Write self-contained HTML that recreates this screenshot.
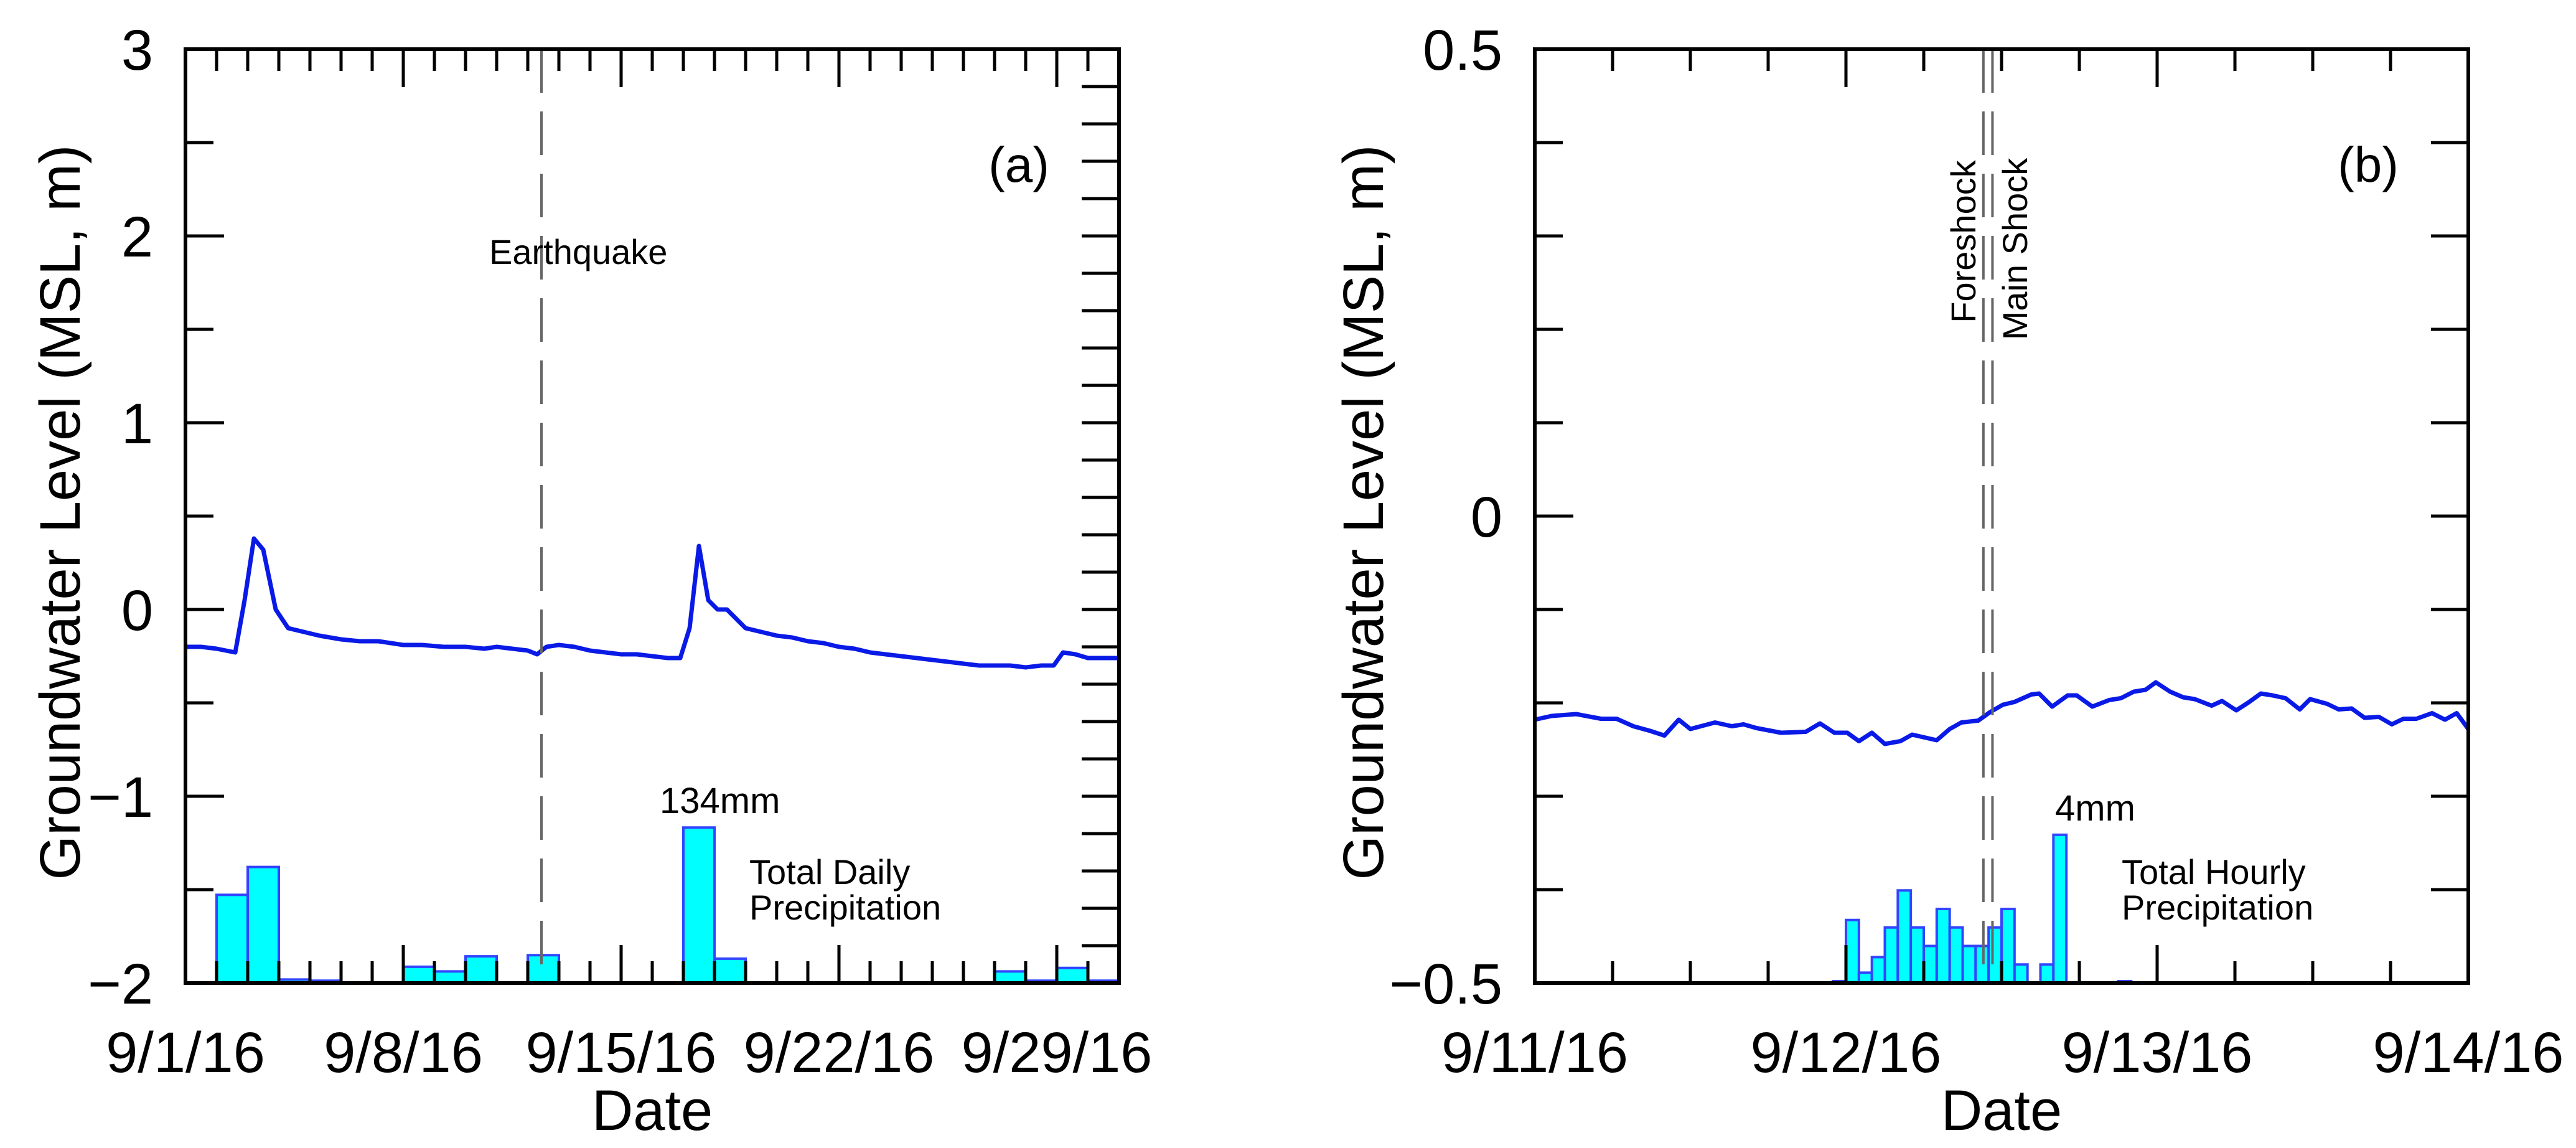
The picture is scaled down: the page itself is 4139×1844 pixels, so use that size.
<!DOCTYPE html>
<html><head><meta charset="utf-8"><style>
html,body{margin:0;padding:0;background:#fff;}
svg{display:block;font-family:"Liberation Sans",Arial,sans-serif;}
</style></head><body>
<svg id="chart" width="4139" height="1844" viewBox="0 0 4139 1844" xmlns="http://www.w3.org/2000/svg">
<g id="pa"></g>
<g id="pb"></g>
</svg>
<script>
// ---- Panel (a) data ----
const aTickLabels = ["9/1/16","9/8/16","9/15/16","9/22/16","9/29/16"];
const aTickDays = [0,7,14,21,28];
const aYTicks = [3,2,1,0,-1,-2];
const aLevelDays = [0,0.5,1,1.3,1.6,1.9,2.2,2.5,2.9,3.3,3.8,4.3,5,5.6,6.2,7,7.6,8.3,9,9.6,10,10.5,11,11.3,11.6,12,12.5,13,13.5,14,14.5,15,15.5,15.9,16.2,16.5,16.8,17.1,17.4,18,18.5,19,19.5,20,20.5,21,21.5,22,22.5,23,23.5,24,24.5,25,25.5,26,26.5,27,27.5,27.9,28.2,28.6,29,29.5,30];
const aLevelValues = [-0.2,-0.2,-0.21,-0.22,-0.23,0.05,0.38,0.32,0.0,-0.1,-0.12,-0.14,-0.16,-0.17,-0.17,-0.19,-0.19,-0.2,-0.2,-0.21,-0.2,-0.21,-0.22,-0.24,-0.2,-0.19,-0.2,-0.22,-0.23,-0.24,-0.24,-0.25,-0.26,-0.26,-0.1,0.34,0.05,0.0,0.0,-0.1,-0.12,-0.14,-0.15,-0.17,-0.18,-0.2,-0.21,-0.23,-0.24,-0.25,-0.26,-0.27,-0.28,-0.29,-0.3,-0.3,-0.3,-0.31,-0.3,-0.3,-0.23,-0.24,-0.26,-0.26,-0.26];
const aPrecipDays = [1,2,3,4,7,8,9,11,16,17,26,27,28,29];
const aPrecipMM = [76,100,3,2,14,10,23,24,134,21,10,2,13,2];
const aQuakeDay = 11.44;

// ---- Panel (b) data ----
const bTickLabels = ["9/11/16","9/12/16","9/13/16","9/14/16"];
const bTickHours = [0,24,48,72];
const bYTicks = [0.5,0,-0.5];
const bLevelHours = [0,1.3,3.2,5.1,6.3,7.6,8.9,10.0,11.1,12.0,13.9,15.2,16.1,17.1,19.0,20.9,22.0,23.1,24.1,25.0,26.0,27.0,28.2,29.1,31.0,32.0,32.9,34.2,35.1,36.1,37.0,38.3,38.9,39.9,41.1,41.8,43.0,44.3,45.2,46.2,47.1,47.9,49.0,50.0,50.9,52.2,53.0,54.1,55.0,56.0,56.9,57.9,59.0,59.8,61.1,62.0,63.0,64.0,65.1,66.1,67.0,68.0,69.2,70.2,71.1,72.0];
const bLevelValues = [-0.218,-0.214,-0.212,-0.217,-0.217,-0.225,-0.230,-0.235,-0.218,-0.228,-0.221,-0.225,-0.223,-0.227,-0.232,-0.231,-0.222,-0.232,-0.232,-0.241,-0.232,-0.244,-0.241,-0.234,-0.240,-0.228,-0.221,-0.219,-0.210,-0.202,-0.199,-0.191,-0.190,-0.204,-0.192,-0.192,-0.204,-0.197,-0.195,-0.188,-0.186,-0.178,-0.188,-0.194,-0.196,-0.203,-0.198,-0.208,-0.200,-0.190,-0.192,-0.195,-0.207,-0.196,-0.201,-0.207,-0.206,-0.216,-0.215,-0.223,-0.217,-0.217,-0.211,-0.218,-0.211,-0.228];
const bPrecipHours = [23,24,25,26,27,28,29,30,31,32,33,34,35,36,37,38,39,40,45];
const bPrecipMM = [0.05,1.7,0.28,0.7,1.5,2.5,1.5,1.0,2.0,1.5,1.0,1.0,1.5,2.0,0.5,0,0.5,4,0.05];
const bForeshockHour = 34.6;
const bMainShockHour = 35.3;

const NS = "http://www.w3.org/2000/svg";
function mk(parent, tag, attrs, text){
  const e = document.createElementNS(NS, tag);
  for (const k in attrs) e.setAttribute(k, attrs[k]);
  if (text !== undefined) e.textContent = text;
  parent.appendChild(e);
  return e;
}

function panel(g, o){
  const L=o.L, R=o.R, T=79, B=1579;
  const sx = v => L + (v - o.x0)/(o.x1 - o.x0)*(R-L);
  const sy = v => B - (v - o.y0)/(o.y1 - o.y0)*(B-T);
  // precipitation bars
  const pg = mk(g,'g',{});
  
  
  o.pX.forEach((d,i)=>{
    const top = sy(o.y0 + o.pV[i]/o.mmPerUnit);
    const x0 = sx(d), x1 = sx(d+o.pW);
    const r = mk(pg,'rect',{x:x0,y:top,width:x1-x0,height:Math.max(0,B-top),fill:'#00ffff',stroke:'none'});
    
    
    const st = mk(pg,'polyline',{points:`${x0},${B} ${x0},${top} ${x1},${top} ${x1},${B}`,fill:'none',stroke:'#3344ff','stroke-width':4});
    
    
  });
  // level line
  const pts = o.lX.map((d,i)=>sx(d).toFixed(1)+','+sy(o.lV[i]).toFixed(1)).join(' ');
  const pl = mk(g,'polyline',{points:pts,fill:'none',stroke:'#0a1ae6','stroke-width':7,'stroke-linejoin':'round'});
  
  
  // event lines
  o.events.forEach(ev=>{
    const ln = mk(g,'line',{x1:sx(ev),x2:sx(ev),y1:T,y2:B,stroke:'#666','stroke-width':4,'stroke-dasharray':'70,30'});
    
    
  });
  // frame
  const fr = mk(g,'rect',{x:L,y:T,width:R-L,height:B-T,fill:'none',stroke:'#000','stroke-width':6});
  
  
  for (let v=o.x0; v<=o.x1+1e-9; v+=o.xMinor){
    const major = Math.abs((v-o.x0)/o.xMajor - Math.round((v-o.x0)/o.xMajor))<1e-6;
    const len = major?61:35;
    mk(g,'line',{x1:sx(v),x2:sx(v),y1:B,y2:B-len,stroke:'#000','stroke-width':5});
    mk(g,'line',{x1:sx(v),x2:sx(v),y1:T,y2:T+len,stroke:'#000','stroke-width':5});
  }
  for (let v=o.y0; v<=o.y1+1e-9; v+=o.yMinorL){
    const major = Math.abs(v/o.yMajor - Math.round(v/o.yMajor))<1e-6;
    mk(g,'line',{x1:L,x2:L+(major?62:45),y1:sy(v),y2:sy(v),stroke:'#000','stroke-width':5});
  }
  for (let v=o.y0; v<=o.y1+1e-9; v+=o.yMinorR){
    mk(g,'line',{x1:R,x2:R-60,y1:sy(v),y2:sy(v),stroke:'#000','stroke-width':5});
  }
  o.yTicks.forEach(v=>{
    const lbl = (v<0?'\u2212':'') + Math.abs(v);
    const t = mk(g,'text',{x:L-52,y:sy(v)+33,'text-anchor':'end','font-size':92},lbl);
    
    
  });
  o.xTickPos.forEach((v,i)=>{
    const t = mk(g,'text',{x:sx(v),y:1722,'text-anchor':'middle','font-size':92},o.xTickLabels[i]);
    
    
  });
  const xt = mk(g,'text',{x:(L+R)/2,y:1815,'text-anchor':'middle','font-size':92},'Date');
  
  
  const yt = mk(g,'text',{x:0,y:0,'text-anchor':'middle','font-size':92,transform:`translate(${o.yTitleX},823) rotate(-90)`},'Groundwater Level (MSL, m)');
  
  
}

const ga = document.getElementById('pa');
panel(ga,{L:298,R:1798,x0:0,x1:30,y0:-2,y1:3,xMinor:1,xMajor:7,yMinorL:0.5,yMinorR:0.2,yMajor:1,
  yTicks:aYTicks,xTickPos:aTickDays,xTickLabels:aTickLabels,lX:aLevelDays,lV:aLevelValues,
  pX:aPrecipDays,pV:aPrecipMM,pW:1,mmPerUnit:161,events:[aQuakeDay],yTitleX:128});
const gb = document.getElementById('pb');
panel(gb,{L:2466,R:3966,x0:0,x1:72,y0:-0.5,y1:0.5,xMinor:6,xMajor:24,yMinorL:0.1,yMinorR:0.1,yMajor:0.5,
  yTicks:bYTicks,xTickPos:bTickHours,xTickLabels:bTickLabels,lX:bLevelHours,lV:bLevelValues,
  pX:bPrecipHours,pV:bPrecipMM,pW:1,mmPerUnit:25.2,events:[bForeshockHour,bMainShockHour],yTitleX:2222});

function note(g,x,y,s,txt,name,anchor,rot){
  const t = mk(g,'text',{x:x,y:y,'font-size':s,'text-anchor':anchor||'start'},txt);
  if (rot) t.setAttribute('transform',`rotate(-90 ${x} ${y})`);
  
  
}
note(ga,1637,292,80,'(a)','panel-label-a','middle');
note(ga,786,424,56,'Earthquake','earthquake-label');
note(ga,1060,1306,58,'134mm','max-precip-label');
note(ga,1204,1420,56,'Total Daily','precip-legend-line1');
note(ga,1204,1477,56,'Precipitation','precip-legend-line2');
note(gb,3805,292,80,'(b)','panel-label-b','middle');
note(gb,3302,1318,58,'4mm','max-precip-label');
note(gb,3409,1420,56,'Total Hourly','precip-legend-line1');
note(gb,3409,1477,56,'Precipitation','precip-legend-line2');
note(gb,3174,388,56,'Foreshock','foreshock-label','middle',true);
note(gb,3257,400,56,'Main Shock','mainshock-label','middle',true);
</script>
</body></html>
